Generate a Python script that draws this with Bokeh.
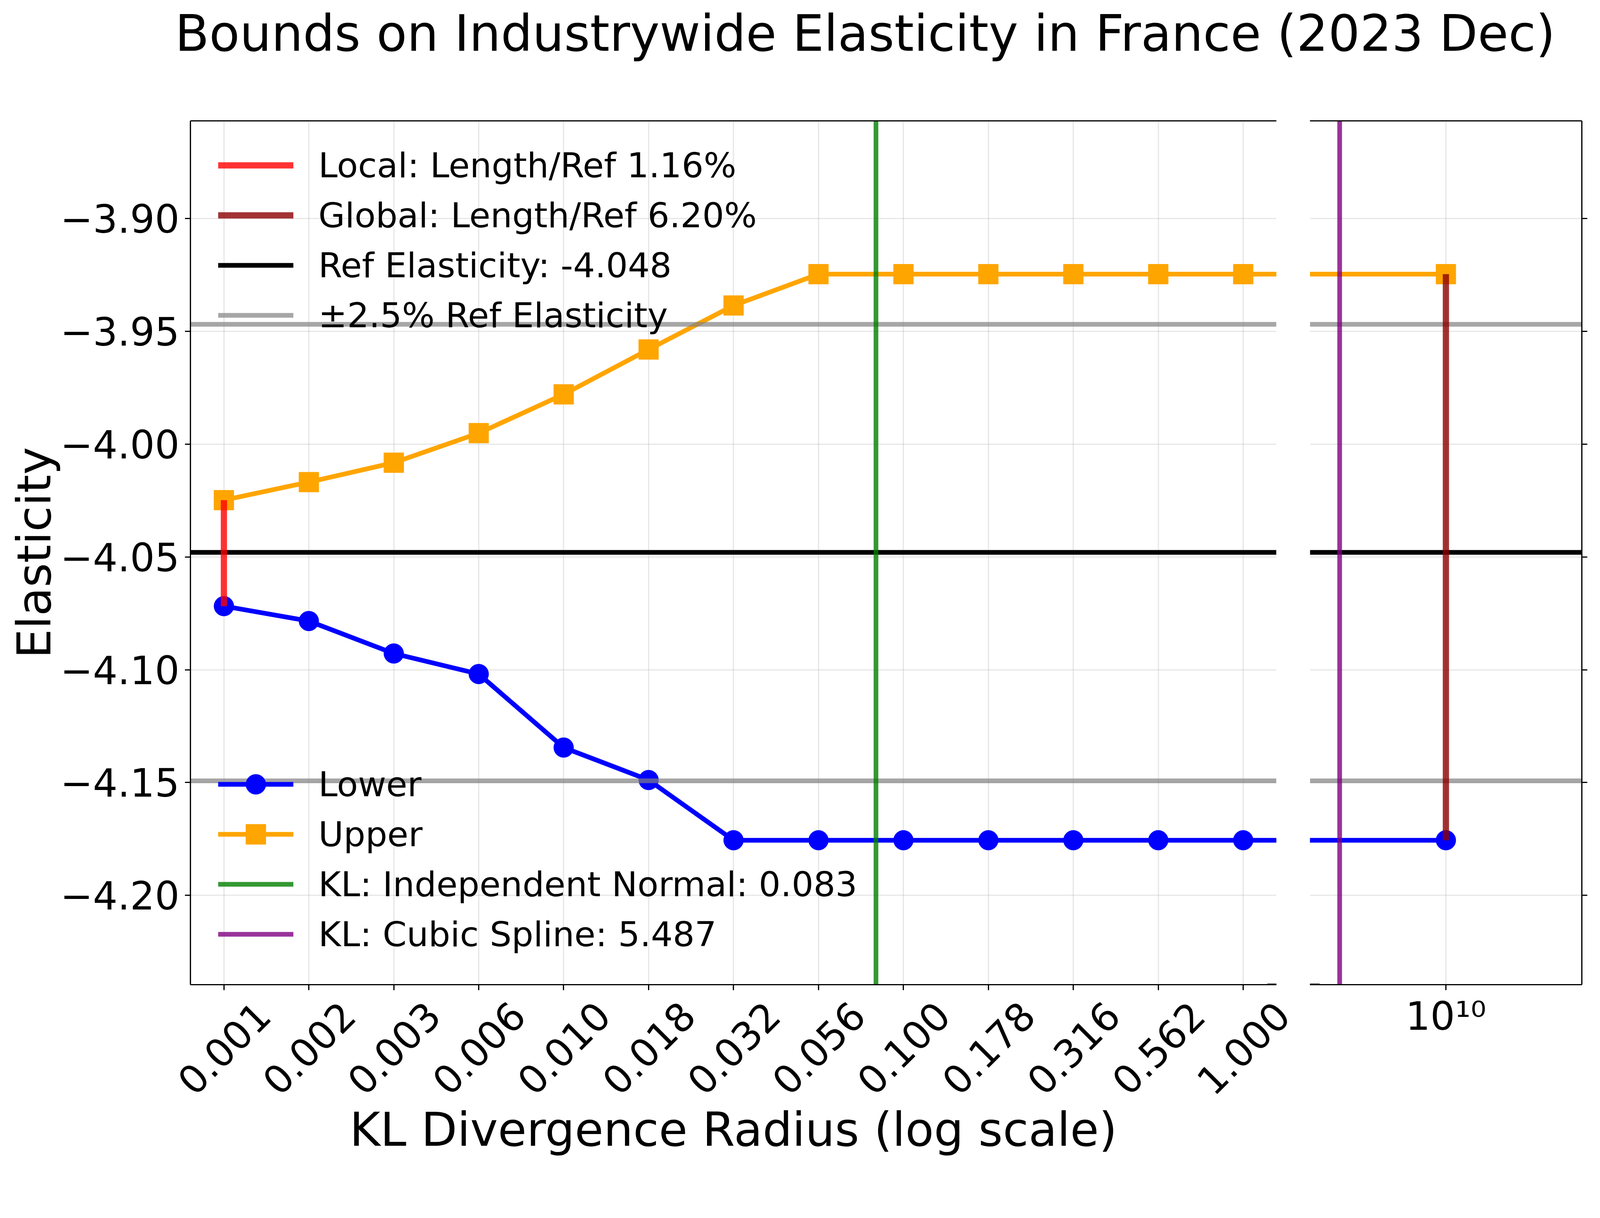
import math
from bokeh.plotting import figure
from bokeh.models import Range1d, FixedTicker, LogAxis, LogScale, Legend, LegendItem, Arrow
from bokeh.core.properties import value
from bokeh.layouts import column, row
from bokeh.embed import file_html
from bokeh.resources import INLINE

# ------------------------------------------------------------------ data
title_text = "Bounds on Industrywide Elasticity in France (2023 Dec)"
x_label = "KL Divergence Radius (log scale)"
y_label = "Elasticity"

radius = [0.001, 0.0017783, 0.0031623, 0.0056234, 0.01, 0.017783, 0.031623,
          0.056234, 0.1, 0.17783, 0.31623, 0.56234, 1.0, 1e10]
lower = [-4.0718, -4.0784, -4.0928, -4.1019, -4.1345, -4.1489, -4.1756,
         -4.1756, -4.1756, -4.1756, -4.1756, -4.1756, -4.1756, -4.1756]
upper = [-4.0248, -4.0168, -4.0082, -3.9951, -3.9779, -3.9580, -3.9385,
         -3.9246, -3.9246, -3.9246, -3.9246, -3.9246, -3.9246, -3.9246]

ref_elasticity = -4.048
band_values = [-3.9468, -4.1492]          # +/-2.5% of the reference elasticity
kl_independent_normal = 0.083
kl_cubic_spline = 5.487
kl_cubic_spline_break_x = 5.487e9         # where that line sits on the broken (right) axis

legend_top_labels = ["Local: Length/Ref 1.16%", "Global: Length/Ref 6.20%",
                     "Ref Elasticity: -4.048", "\u00b12.5% Ref Elasticity"]
legend_bottom_labels = ["Lower", "Upper", "KL: Independent Normal: 0.083",
                        "KL: Cubic Spline: 5.487"]

x_ticks = [0.001, 0.0017783, 0.0031623, 0.0056234, 0.01, 0.017783, 0.031623,
           0.056234, 0.1, 0.17783, 0.31623, 0.56234, 1.0]
x_tick_labels = ["0.001", "0.002", "0.003", "0.006", "0.010", "0.018", "0.032",
                 "0.056", "0.100", "0.178", "0.316", "0.562", "1.000"]
y_ticks = [-3.90, -3.95, -4.00, -4.05, -4.10, -4.15, -4.20]
y_tick_labels = ["\u22123.90", "\u22123.95", "\u22124.00", "\u22124.05",
                 "\u22124.10", "\u22124.15", "\u22124.20"]
break_ticks = [1e10]
break_tick_labels = ["10\u00b9\u2070"]

# ------------------------------------------------------------------ layout / style
S = 1 / 1.044                      # css px per picture px
FONT = "DejaVu Sans"
TICK_F = 104 * S
LABEL_F = 125 * S
TITLE_F = 133.3 * S
TICK_PX = f"{TICK_F:.1f}px"
LABEL_PX = f"{LABEL_F:.1f}px"
LEGEND_PX = f"{92 * S:.1f}px"
TITLE_PX = f"{TITLE_F:.1f}px"
LW = 12.5 * S
SPINE = 3.3 * S
TICK_LEN = 14
MID = 0.28                         # em offset from text middle to baseline


def css_y(picture_y):
    return picture_y * S - 8


TITLE_H = 190
TOP = 119
FRAME_H = 2212
BOT1 = 15
STRIP_H = 425
LEFT1 = 487
F1_W = 2780
GAP = 43
F2_W = 696
RIGHT2 = 35
W1 = LEFT1 + F1_W + GAP
W2 = GAP + F2_W + RIGHT2
TOTAL_W = W1 + W2

X1 = Range1d(10 ** -3.0985, 10 ** 0.0976)
X2 = Range1d(10 ** (10 - 1 / 3), 10 ** (10 + 1 / 3))
Y = Range1d(-4.23964, -3.85663)


def style_axis(ax, size=TICK_PX):
    ax.axis_line_width = SPINE
    ax.axis_line_color = "black"
    ax.major_tick_line_width = SPINE
    ax.major_tick_line_color = "black"
    ax.major_tick_out = TICK_LEN
    ax.major_tick_in = 0
    ax.minor_tick_line_color = None
    ax.minor_tick_out = 0
    ax.minor_tick_in = 0
    ax.major_label_text_font = FONT
    ax.major_label_text_font_size = size
    ax.major_label_text_color = "black"
    ax.axis_label_text_font = FONT
    ax.axis_label_text_font_size = LABEL_PX
    ax.axis_label_text_font_style = "normal"
    ax.axis_label_text_color = "black"


def style_grid(p):
    for g in p.grid:
        g.grid_line_color = "#b0b0b0"
        g.grid_line_alpha = 0.3
        g.grid_line_width = SPINE


def draw(p, purple_x):
    r = {}
    r["lower_line"] = p.line(radius, lower, line_color="blue", line_width=LW, line_join="round")
    r["lower_pts"] = p.scatter(radius, lower, marker="circle", size=53 * S, fill_color="blue",
                               line_color="blue", line_width=1)
    r["upper_line"] = p.line(radius, upper, line_color="orange", line_width=LW, line_join="round")
    r["upper_pts"] = p.scatter(radius, upper, marker="square", size=53 * S, fill_color="orange",
                               line_color="orange", line_width=1)
    r["ref"] = p.hspan(y=[ref_elasticity], line_color="black", line_width=LW)
    r["band"] = p.hspan(y=band_values, line_color="gray", line_alpha=0.7, line_width=LW)
    r["green"] = p.vspan(x=[kl_independent_normal], line_color="green", line_alpha=0.8, line_width=LW)
    r["purple"] = p.vspan(x=[purple_x], line_color="purple", line_alpha=0.8, line_width=LW)
    r["local"] = p.segment(x0=[radius[0]], y0=[upper[0]], x1=[radius[0]], y1=[lower[0]],
                           line_color="red", line_alpha=0.8, line_width=16.7 * S)
    r["global"] = p.segment(x0=[radius[-1]], y0=[upper[-1]], x1=[radius[-1]], y1=[lower[-1]],
                            line_color="darkred", line_alpha=0.8, line_width=16.7 * S)
    return r


common = dict(toolbar_location=None, output_backend="svg", outline_line_color=None, title=None)

# ------------------------------------------------------------------ title strip
pt = figure(width=TOTAL_W, height=TITLE_H, x_range=Range1d(0, TOTAL_W), y_range=Range1d(0, TITLE_H),
            min_border=0, x_axis_type=None, y_axis_type=None, **common)
pt.text(x=[2320 * S - 8], y=[TITLE_H - (css_y(134) - MID * TITLE_F)], text=[title_text],
        text_align="center", text_baseline="middle", text_font=value(FONT),
        text_font_size=value(TITLE_PX), text_color="black")

# ------------------------------------------------------------------ main (left) panel
p1 = figure(x_axis_type="log", x_range=X1, y_range=Y, frame_width=F1_W, frame_height=FRAME_H,
            min_border_left=LEFT1, min_border_right=GAP, min_border_top=TOP, min_border_bottom=BOT1,
            **common)
r1 = draw(p1, kl_cubic_spline)

xa = p1.xaxis[0]
style_axis(xa, "0px")
xa.ticker = FixedTicker(ticks=x_ticks)
xa.major_label_overrides = {t: "" for t in x_ticks}
xa.major_label_standoff = 0

ya = p1.yaxis[0]
style_axis(ya)
ya.ticker = FixedTicker(ticks=y_ticks)
ya.major_label_overrides = dict(zip(y_ticks, y_tick_labels))
ya.major_label_standoff = 14
ya.axis_label = y_label
ya.axis_label_standoff = -6

top1 = LogAxis(ticker=FixedTicker(ticks=[]))
style_axis(top1, "0px")
top1.major_tick_out = 0
p1.add_layout(top1, "above")
style_grid(p1)

l0, l1 = math.log10(X1.start), math.log10(X1.end)
dec1 = F1_W / (l1 - l0)
p1.add_layout(Arrow(end=None, x_start=10 ** (l1 - 24 * S / dec1), y_start=Y.start,
                    x_end=10 ** (l1 + 25 * S / dec1), y_end=Y.start,
                    line_width=6 * S, line_color="black"))

leg_common = dict(glyph_width=193, glyph_height=128, label_standoff=64, spacing=0, padding=0,
                  margin=0, border_line_color=None, background_fill_alpha=0,
                  label_text_font=FONT, label_text_font_size=LEGEND_PX, label_text_color="black",
                  label_height=128)
legend1 = Legend(items=[
    LegendItem(label=legend_top_labels[0], renderers=[r1["local"]]),
    LegendItem(label=legend_top_labels[1], renderers=[r1["global"]]),
    LegendItem(label=legend_top_labels[2], renderers=[r1["ref"]]),
    LegendItem(label=legend_top_labels[3], renderers=[r1["band"]]),
], location=(71, 1650), **leg_common)
legend2 = Legend(items=[
    LegendItem(label=legend_bottom_labels[0], renderers=[r1["lower_line"], r1["lower_pts"]]),
    LegendItem(label=legend_bottom_labels[1], renderers=[r1["upper_line"], r1["upper_pts"]]),
    LegendItem(label=legend_bottom_labels[2], renderers=[r1["green"]]),
    LegendItem(label=legend_bottom_labels[3], renderers=[r1["purple"]]),
], location=(71, 65), **leg_common)
p1.add_layout(legend1)
p1.add_layout(legend2)

# ------------------------------------------------------------------ broken (right) panel
p2 = figure(x_axis_type="log", x_range=X2, y_range=Y, frame_width=F2_W, frame_height=FRAME_H,
            y_axis_location="right",
            min_border_left=GAP, min_border_right=RIGHT2, min_border_top=TOP,
            min_border_bottom=BOT1, **common)
r2 = draw(p2, kl_cubic_spline_break_x)

xb = p2.xaxis[0]
style_axis(xb, "0px")
xb.ticker = FixedTicker(ticks=break_ticks)
xb.major_label_overrides = {t: "" for t in break_ticks}
xb.major_label_standoff = 0

yb = p2.yaxis[0]
style_axis(yb, "0px")
yb.ticker = FixedTicker(ticks=y_ticks)
yb.major_label_overrides = {t: "" for t in y_ticks}
yb.major_label_standoff = 0

top2 = LogAxis(ticker=FixedTicker(ticks=[]))
style_axis(top2, "0px")
top2.major_tick_out = 0
p2.add_layout(top2, "above")
style_grid(p2)

m0, m1 = math.log10(X2.start), math.log10(X2.end)
dec2 = F2_W / (m1 - m0)
p2.add_layout(Arrow(end=None, x_start=10 ** (m0 - 23 * S / dec2), y_start=Y.start,
                    x_end=10 ** (m0 + 26 * S / dec2), y_end=Y.start,
                    line_width=6 * S, line_color="black"))

# ------------------------------------------------------------------ tick-label strip (both panels' x scales)
strip = figure(width=TOTAL_W, height=STRIP_H, x_axis_type="log",
               x_range=Range1d(10 ** (l0 - LEFT1 / dec1), 10 ** (l1 + (TOTAL_W - LEFT1 - F1_W) / dec1)),
               y_range=Range1d(0, STRIP_H), min_border=0,
               x_axis_location=None, y_axis_location=None, **common)
strip.extra_x_ranges = {"brk": Range1d(10 ** (m0 - (W1 + GAP) / dec2), 10 ** (m1 + RIGHT2 / dec2))}
strip.extra_x_scales = {"brk": LogScale()}
strip.grid.visible = False
strip_top = TITLE_H + TOP + FRAME_H + BOT1           # css y of the strip's top edge

y_ticklab = STRIP_H - (css_y(2809.5) - strip_top)
y_xlabel = STRIP_H - (css_y(3063) - MID * LABEL_F - strip_top)
y_brklab = STRIP_H - (css_y(2754) - MID * TICK_F - strip_top)

strip.text(x=x_ticks, y=[y_ticklab] * len(x_ticks), text=x_tick_labels, angle=math.pi / 4,
           text_align="center", text_baseline="middle", text_font=value(FONT),
           text_font_size=value(TICK_PX), text_color="black")
strip.text(x=[10 ** ((l0 + l1) / 2)], y=[y_xlabel], text=[x_label], text_align="center",
           text_baseline="middle", text_font=value(FONT), text_font_size=value(LABEL_PX),
           text_color="black")
strip.text(x=break_ticks, y=[y_brklab] * len(break_ticks), text=break_tick_labels,
           x_range_name="brk", text_align="center", text_baseline="middle",
           text_font=value(FONT), text_font_size=value(TICK_PX), text_color="black")

layout = column(pt, row(p1, p2), strip)
open("out.html", "w").write(file_html(layout, INLINE))
